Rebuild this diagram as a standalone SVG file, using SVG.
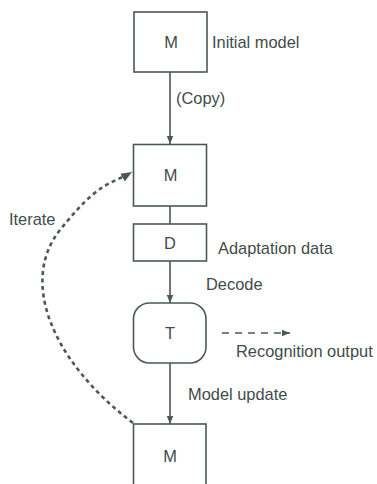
<svg xmlns="http://www.w3.org/2000/svg" width="377" height="484" viewBox="0 0 377 484">
<style>
.box{fill:none;stroke:#4b5955;stroke-width:1.6}
.t{font-family:"Liberation Sans",Arial,sans-serif;font-size:16.4px;fill:#3f4c49}
.c{text-anchor:middle}
.ln{stroke:#4b5955;stroke-width:1.6;fill:none}
.dash{stroke:#4b5955;stroke-width:2.6;fill:none;stroke-dasharray:4 3.5}
.dash2{stroke:#4b5955;stroke-width:1.6;fill:none;stroke-dasharray:7 6}
</style>
<defs>
<marker id="ah" viewBox="0 0 10 10" refX="10" refY="5" markerWidth="8" markerHeight="8" markerUnits="userSpaceOnUse" orient="auto">
<path d="M0,1 L10,5 L0,9 z" fill="#4b5955"/>
</marker>
<marker id="ahb" viewBox="0 0 10 10" refX="10" refY="5" markerWidth="11" markerHeight="11" markerUnits="userSpaceOnUse" orient="auto">
<path d="M0,1 L10,5 L0,9 z" fill="#4b5955"/>
</marker>
</defs>
<rect width="377" height="484" fill="#ffffff"/>
<g id="connectors">
<line class="ln" x1="170" y1="72" x2="170" y2="144" marker-end="url(#ah)"/>
<line class="ln" x1="170" y1="206" x2="170" y2="224"/>
<line class="ln" x1="170" y1="261" x2="170" y2="303" marker-end="url(#ah)"/>
<line class="ln" x1="170" y1="363" x2="170" y2="424" marker-end="url(#ah)"/>
<line class="dash2" x1="222" y1="333" x2="290" y2="333" marker-end="url(#ah)"/>
<path class="dash" d="M133,423 C50,360 20,280 60,230 S110,185 132,172" marker-end="url(#ahb)"/>
</g>
<g id="node-m1">
<rect class="box" x="134" y="12" width="73" height="60"/>
<text class="t c" x="171" y="48">M</text>
<text class="t" x="212" y="48">Initial model</text>
</g>
<g id="label-copy"><text class="t" x="176" y="104">(Copy)</text></g>
<g id="node-m2">
<rect class="box" x="133.5" y="144.5" width="73" height="61.5"/>
<text class="t c" x="170.5" y="181">M</text>
</g>
<g id="label-iterate"><text class="t" x="9" y="225">Iterate</text></g>
<g id="node-d">
<rect class="box" x="133.5" y="224" width="73" height="37"/>
<text class="t c" x="170" y="249">D</text>
<text class="t" x="218" y="254">Adaptation data</text>
</g>
<g id="label-decode"><text class="t" x="206" y="290">Decode</text></g>
<g id="node-t">
<rect class="box" x="133.5" y="303" width="72.5" height="60" rx="16" ry="16"/>
<text class="t c" x="170" y="339">T</text>
</g>
<g id="label-recog"><text class="t" x="236" y="357">Recognition output</text></g>
<g id="label-update"><text class="t" x="188" y="400">Model update</text></g>
<g id="node-m3">
<rect class="box" x="133.5" y="424" width="72.5" height="70"/>
<text class="t c" x="170" y="462">M</text>
</g>
</svg>
